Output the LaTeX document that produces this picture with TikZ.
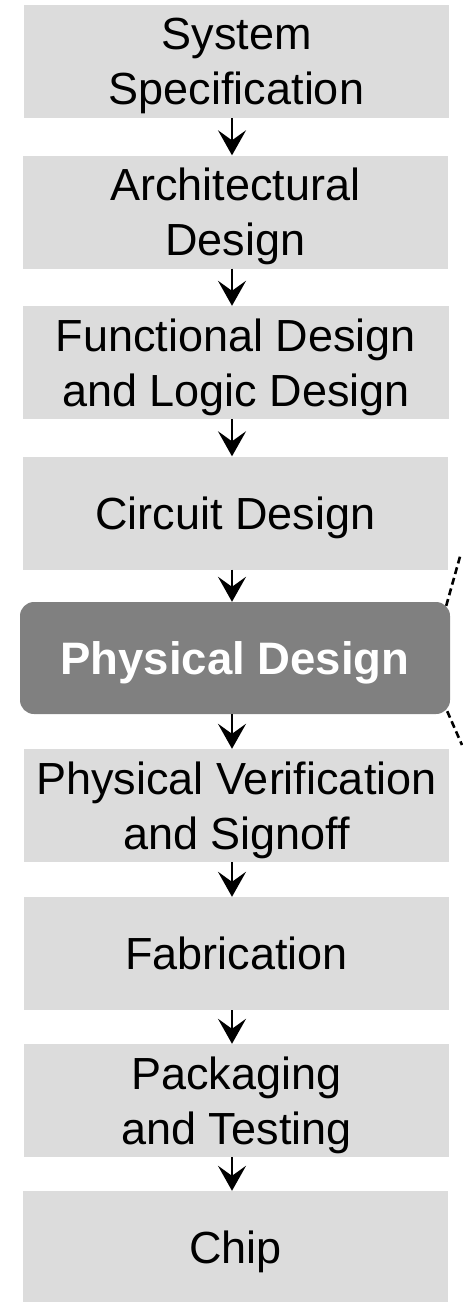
\documentclass[tikz,border=0pt]{standalone}
\usepackage{fontspec}
\setmainfont{Liberation Sans}
\usetikzlibrary{arrows.meta}
\definecolor{stepgray}{RGB}{220,220,220}
\definecolor{focusgray}{RGB}{128,128,128}
\tikzset{
  stepbox/.style={rectangle, fill=stepgray, draw=none, minimum width=425.5pt,
    minimum height=113pt, inner sep=0pt, align=center, text depth=0pt,
    font=\fontsize{45}{55}\selectfont},
  focusbox/.style={rectangle, rounded corners=14pt, fill=focusgray, draw=none,
    minimum width=430pt, minimum height=112pt, inner sep=0pt, align=center,
    text depth=0pt, text=white, font=\fontsize{45.5}{55}\selectfont\bfseries},
  flow/.style={line width=2.4pt, -{Stealth[length=25pt, width=28pt, inset=10pt]}},
  zoomline/.style={line width=2.6pt, dash pattern=on 7pt off 4pt}
}
\begin{document}
\begin{tikzpicture}[x=1pt, y=-1pt]
  \useasboundingbox[fill=white] (0,0) rectangle (463,1302);

  \node[stepbox] (spec) at (236.5,61.5) {System\\Specification};
  \node[stepbox] (arch) at (235.5,212) {Architectural\\Design};
  \node[stepbox] (func) at (236,362.5) {Functional Design\\and Logic Design};
  \node[stepbox] (circ) at (235.5,513) {Circuit Design};
  \node[focusbox] (phys) at (235,658) {Physical Design};
  \node[stepbox] (verif) at (236.5,805.5) {Physical Verification\\and Signoff};
  \node[stepbox] (fab) at (236.5,953.5) {Fabrication};
  \node[stepbox] (pack) at (236.5,1100.5) {Packaging\\and Testing};
  \node[stepbox] (chip) at (235.5,1247.5) {Chip};

  % all arrows run down one common vertical axis
  \coordinate (axis) at (232,0);
  \foreach \a/\b in {spec/arch, arch/func, func/circ, circ/phys, phys/verif,
                     verif/fab, fab/pack, pack/chip}
    \draw[flow] (\a.south -| axis) -- (\b.north -| axis);

  % dashed lines leading off to the right from the highlighted step
  \coordinate (zoomtop) at (461,553);
  \coordinate (zoombot) at (462,745);
  \draw[zoomline] ([xshift=-4pt,yshift=-4pt]phys.north east) -- (zoomtop);
  \draw[zoomline] ([xshift=-3pt,yshift=3pt]phys.south east) -- (zoombot);
\end{tikzpicture}
\end{document}
